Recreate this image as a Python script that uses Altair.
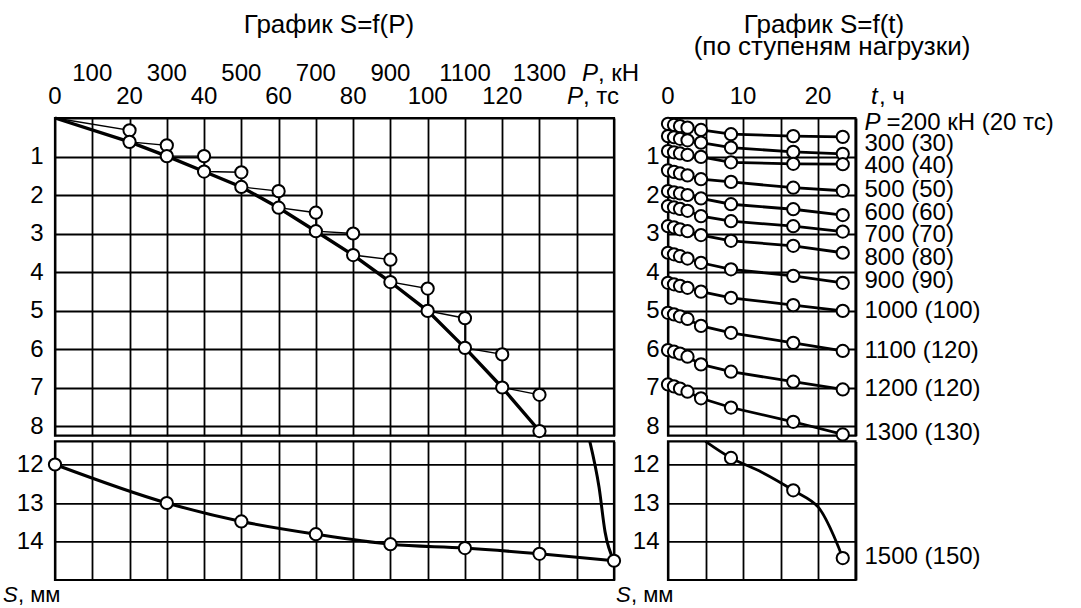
import altair as alt
import pandas as pd

FONT = "Liberation Sans"
FS = 24
FS_LAB = 24

# ---------------- data: S = f(P) ----------------
P_ts = [0, 20, 30, 40, 50, 60, 70, 80, 90, 100, 110, 120, 130]
S_start = [0, 0.32, 0.71, 0.99, 1.41, 1.90, 2.46, 3.00, 3.68, 4.43, 5.20, 6.14, 7.19]
S_end = [0, 0.62, 0.99, 1.39, 1.79, 2.33, 2.94, 3.56, 4.26, 5.01, 5.97, 7.00, 8.13]

low_P = [0, 30, 50, 70, 90, 110, 130, 150]
low_S = [12.0, 13.0, 13.48, 13.81, 14.07, 14.17, 14.32, 14.5]
jump_P = [143.5, 146, 147.6, 150]
jump_S = [11.4, 12.6, 13.75, 14.5]

ts_ticks = [0, 20, 40, 60, 80, 100, 120]
kn_pos = [10, 30, 50, 70, 90, 110, 130]
kn_labels = ["100", "300", "500", "700", "900", "1100", "1300"]

# ---------------- data: S = f(t) ----------------
t_h = [0, 0.8, 1.6, 2.6, 4.4, 8.4, 16.7, 23.3]
loads = [200, 300, 400, 500, 600, 700, 800, 900, 1000, 1100, 1200, 1300]
S_200 = [0.15, 0.18, 0.21, 0.25, 0.31, 0.42, 0.47, 0.49]
S_300 = [0.47, 0.50, 0.54, 0.58, 0.64, 0.77, 0.88, 0.93]
S_400 = [0.86, 0.89, 0.92, 0.96, 1.01, 1.15, 1.19, 1.20]
S_500 = [1.36, 1.40, 1.44, 1.49, 1.59, 1.66, 1.81, 1.89]
S_600 = [1.90, 1.93, 1.96, 2.00, 2.09, 2.24, 2.37, 2.52]
S_700 = [2.29, 2.32, 2.36, 2.41, 2.55, 2.68, 2.81, 2.95]
S_800 = [2.81, 2.84, 2.89, 2.94, 3.04, 3.19, 3.32, 3.50]
S_900 = [3.50, 3.54, 3.59, 3.65, 3.76, 3.93, 4.10, 4.28]
S_1000 = [4.28, 4.32, 4.36, 4.41, 4.51, 4.67, 4.86, 5.01]
S_1100 = [5.06, 5.10, 5.15, 5.22, 5.40, 5.58, 5.84, 6.05]
S_1200 = [6.03, 6.07, 6.12, 6.20, 6.40, 6.59, 6.85, 7.05]
S_1300 = [6.92, 6.97, 7.03, 7.11, 7.28, 7.52, 7.89, 8.22]
S_rows = [S_200, S_300, S_400, S_500, S_600, S_700, S_800, S_900,
          S_1000, S_1100, S_1200, S_1300]

t_1500_line = [5, 8.4, 12.5, 16.7, 20, 23.3]
S_1500_line = [11.4, 11.83, 12.2, 12.67, 13.1, 14.43]
t_1500_pts = [8.4, 16.7, 23.3]
S_1500_pts = [11.83, 12.67, 14.43]

first_label = "=200 кН (20 тс)"
row_labels = ["300 (30)", "400 (40)", "500 (50)", "600 (60)",
              "700 (70)", "800 (80)", "900 (90)", "1000 (100)", "1100 (120)",
              "1200 (120)", "1300 (130)"]
row_label_S = [0.68, 1.25, 1.87, 2.47, 3.04, 3.64, 4.23, 5.01, 6.05, 7.04, 8.18]
first_label_S = 0.13
label_1500 = "1500 (150)"
label_1500_S = 14.39
t_ticks = [0, 10, 20]

# ---------------- tables ----------------
stair = []
for i, (p, a, b) in enumerate(zip(P_ts, S_start, S_end)):
    stair.append({"P": p, "S": a, "o": 2 * i})
    stair.append({"P": p, "S": b, "o": 2 * i + 1})
df_stair = pd.DataFrame(stair)
df_main = pd.DataFrame({"P": P_ts, "S": S_end})
df_pts = pd.DataFrame({"P": P_ts[1:] + P_ts[1:], "S": S_start[1:] + S_end[1:]})
df_low = pd.DataFrame({"P": low_P, "S": low_S})
df_jump = pd.DataFrame({"P": jump_P, "S": jump_S})
df_ts = pd.DataFrame({"P": ts_ticks, "lab": [str(v) for v in ts_ticks]})
df_kn = pd.DataFrame({"P": kn_pos, "lab": kn_labels})

rows = []
for ld, ss in zip(loads, S_rows):
    for t, s in zip(t_h, ss):
        rows.append({"t": t, "S": s, "load": ld})
df_r = pd.DataFrame(rows)
df_rlab = pd.DataFrame({"S": row_label_S, "lab": row_labels})
df_p = pd.DataFrame({"S": [first_label_S], "lab": ["P"]})
df_first = pd.DataFrame({"S": [first_label_S], "lab": [first_label]})
df_15l = pd.DataFrame({"t": t_1500_line, "S": S_1500_line})
df_15p = pd.DataFrame({"t": t_1500_pts, "S": S_1500_pts})
df_tt = pd.DataFrame({"t": t_ticks, "lab": [str(v) for v in t_ticks]})

# ---------------- geometry ----------------
PXMM = 38.5
W_L, W_R = 559, 187.5
H_U = 8.25 * PXMM
H_L = 3.6 * PXMM


def x_enc(field, dom, step, orient):
    return alt.X(f"{field}:Q", scale=alt.Scale(domain=dom, nice=False, zero=False),
                 axis=alt.Axis(orient=orient, values=list(range(dom[0], dom[1] + 1, step)),
                               labels=False, ticks=False, domain=False, grid=True, title=None))


def y_enc(dom, vals, pad):
    return alt.Y("S:Q", scale=alt.Scale(domain=dom, reverse=True, nice=False, zero=False),
                 axis=alt.Axis(values=vals, labelExpr="datum.value > 0 ? datum.label : ''",
                               ticks=False, domain=False, grid=True, title=None,
                               labelPadding=pad, labelFontSize=FS, labelFont=FONT,
                               labelColor="black"))


def note(text, x, y, italic=False, align="left", size=FS):
    return alt.Chart(pd.DataFrame({"lab": [text]})).mark_text(
        align=align, baseline="middle", font=FONT, fontSize=size,
        fontStyle="italic" if italic else "normal", color="black"
    ).encode(x=alt.value(x), y=alt.value(y), text="lab:N")


PT = dict(shape="circle", filled=True, fill="white", stroke="black",
          strokeWidth=2, size=150, opacity=1)
TXT = dict(font=FONT, fontSize=FS_LAB, align="left", baseline="middle", color="black")

# ---------------- upper left ----------------
xu = lambda: x_enc("P", [0, 150], 10, "top")
yu = lambda: y_enc([0, 8.25], list(range(0, 9)), 12)

ul = alt.layer(
    alt.Chart(df_stair).mark_line(color="black", strokeWidth=1.4).encode(
        x=xu(), y=yu(), order="o:Q"),
    alt.Chart(df_main).mark_line(color="black", strokeWidth=3.4).encode(
        x=xu(), y=yu(), order="P:Q"),
    alt.Chart(df_pts).mark_point(**PT).encode(x=xu(), y=yu()),
    alt.Chart(df_ts).mark_text(font=FONT, fontSize=FS, baseline="middle", color="black").encode(
        x=xu(), y=alt.value(-21), text="lab:N"),
    alt.Chart(df_kn).mark_text(font=FONT, fontSize=FS, baseline="middle", color="black").encode(
        x=xu(), y=alt.value(-44), text="lab:N"),
    note("P", 512, -21, italic=True),
    note(", тс", 528, -21),
    note("P", 527, -44, italic=True),
    note(", кН", 543, -44),
    note("График S=f(P)", 274, -93, align="center", size=26),
).properties(width=W_L, height=H_U)

# ---------------- lower left ----------------
xl = lambda: x_enc("P", [0, 150], 10, "bottom")
yl = lambda: y_enc([11.4, 15], [12, 13, 14], 12)

ll = alt.layer(
    alt.Chart(df_low).mark_line(color="black", strokeWidth=3, interpolate="monotone").encode(
        x=xl(), y=yl(), order="P:Q"),
    alt.Chart(df_jump).mark_line(color="black", strokeWidth=3, interpolate="monotone").encode(
        x=xl(), y=yl(), order="P:Q"),
    alt.Chart(df_low).mark_point(**PT).encode(x=xl(), y=yl()),
    note("S", -52, 154, italic=True, size=22),
    note(", мм", -37, 154, size=22),
).properties(width=W_L, height=H_L)

# ---------------- upper right ----------------
xr = lambda: x_enc("t", [0, 25], 5, "top")
yr = lambda: y_enc([0, 8.25], list(range(0, 9)), 9)

ur = alt.layer(
    alt.Chart(df_r).mark_line(color="black", strokeWidth=2.8).encode(
        x=xr(), y=yr(), detail="load:N", order="t:Q"),
    alt.Chart(df_r).mark_point(**PT).encode(x=xr(), y=yr()),
    alt.Chart(df_rlab).mark_text(**TXT).encode(
        x=alt.value(W_R + 9), y=yr(), text="lab:N"),
    alt.Chart(df_p).mark_text(fontStyle="italic", **TXT).encode(
        x=alt.value(W_R + 9), y=yr(), text="lab:N"),
    alt.Chart(df_first).mark_text(**TXT).encode(
        x=alt.value(W_R + 31), y=yr(), text="lab:N"),
    alt.Chart(df_tt).mark_text(font=FONT, fontSize=FS, baseline="middle", color="black").encode(
        x=xr(), y=alt.value(-21), text="lab:N"),
    note("t", 203, -21, italic=True),
    note(", ч", 211, -21),
    note("График S=f(t)", 156, -93, align="center", size=26),
    note("(по ступеням нагрузки)", 164, -71, align="center", size=26),
).properties(width=W_R, height=H_U)

# ---------------- lower right ----------------
xr2 = lambda: x_enc("t", [0, 25], 5, "bottom")
yr2 = lambda: y_enc([11.4, 15], [12, 13, 14], 9)

lr = alt.layer(
    alt.Chart(df_15l).mark_line(color="black", strokeWidth=2.8, interpolate="catmull-rom").encode(
        x=xr2(), y=yr2(), order="t:Q"),
    alt.Chart(df_15p).mark_point(**PT).encode(x=xr2(), y=yr2()),
    alt.Chart(pd.DataFrame({"S": [label_1500_S], "lab": [label_1500]})).mark_text(**TXT).encode(
        x=alt.value(W_R + 9), y=yr2(), text="lab:N"),
    note("S", -52, 154, italic=True, size=22),
    note(", мм", -37, 154, size=22),
).properties(width=W_R, height=H_L)

chart = alt.concat(
    ul, ur, ll, lr, columns=2, bounds="flush",
    spacing={"row": 5.4, "column": 54},
).properties(
    padding={"left": 1, "top": 10, "right": 5, "bottom": 0},
    background="white",
).configure_view(
    stroke="black", strokeWidth=2.2
).configure_axis(
    gridColor="black", gridWidth=1.8, gridOpacity=1
).resolve_scale(y="independent", x="independent")

chart.save("out.html", embed_options={"renderer": "svg", "actions": False})
